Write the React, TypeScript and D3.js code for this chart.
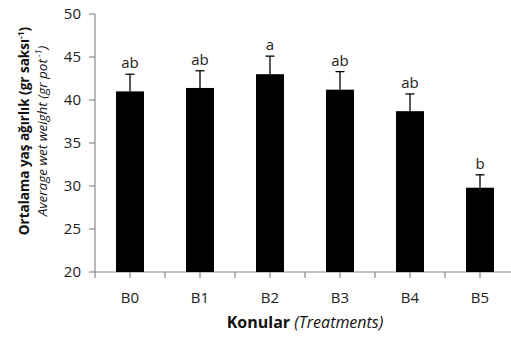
import React from "react";
import * as d3 from "d3";

const categories = ["B0", "B1", "B2", "B3", "B4", "B5"];
const means = [41.0, 41.4, 43.0, 41.2, 38.7, 29.8];
const errors = [2.0, 2.0, 2.1, 2.1, 2.0, 1.5];
const letters = ["ab", "ab", "a", "ab", "ab", "b"];
const yTicks = [20, 25, 30, 35, 40, 45, 50];

const W = 511;
const H = 338;
const left = 95;
const right = 515;
const top = 14;
const bottom = 272;
const FONT = "Open Sans, Noto Sans, sans-serif";
const AXIS = "#8a8a8a";

export default function App() {
  const x = d3.scaleBand<string>().domain(categories).range([left, right]).paddingInner(0.6).paddingOuter(0.3);
  const y = d3.scaleLinear().domain([20, 50]).range([bottom, top]);
  const step = x.step();
  const xTickPos: number[] = [];
  for (let i = 0; i <= categories.length * 2; i++) {
    const p = left + (i * step) / 2;
    if (p <= W) xTickPos.push(p);
  }
  return (
    <svg width={W} height={H} style={{ position: "absolute", left: 0, top: 0, background: "#fff" }} fontFamily={FONT}>
      <rect x={0} y={0} width={W} height={H} fill="#fff" />
      {/* y axis */}
      <line x1={left} x2={left} y1={top} y2={bottom} stroke={AXIS} strokeWidth={1.2} />
      {yTicks.map((t) => (
        <g key={t}>
          <line x1={left - 6} x2={left} y1={y(t)} y2={y(t)} stroke={AXIS} strokeWidth={1.2} />
          <text x={81} y={y(t)} dy="0.36em" textAnchor="end" fontSize={15} fill="#222">
            {t}
          </text>
        </g>
      ))}
      {/* x axis */}
      <line x1={left} x2={W} y1={bottom} y2={bottom} stroke={AXIS} strokeWidth={1.2} />
      {xTickPos.map((p, i) => (
        <line key={i} x1={p} x2={p} y1={bottom} y2={bottom + 6} stroke={AXIS} strokeWidth={1.2} />
      ))}
      {categories.map((c) => (
        <text key={c} x={(x(c) as number) + x.bandwidth() / 2} y={303} textAnchor="middle" fontSize={15} fill="#222">
          {c}
        </text>
      ))}
      {/* bars */}
      {categories.map((c, i) => {
        const cx = (x(c) as number) + x.bandwidth() / 2;
        const yt = y(means[i] + errors[i]);
        return (
          <g key={c}>
            <line x1={cx} x2={cx} y1={y(means[i])} y2={yt} stroke="#000" strokeWidth={1.3} />
            <line x1={cx - 4.5} x2={cx + 4.5} y1={yt} y2={yt} stroke="#000" strokeWidth={1.3} />
            <rect x={x(c)} y={y(means[i])} width={x.bandwidth()} height={bottom - y(means[i])} fill="#000" />
            <text x={cx} y={yt - 6} textAnchor="middle" fontSize={15} fill="#222">
              {letters[i]}
            </text>
          </g>
        );
      })}
      {/* x title */}
      <text x={305} y={328} textAnchor="middle" fontSize={16} fill="#111">
        <tspan fontWeight="bold">Konular</tspan>
        <tspan fontStyle="italic"> (Treatments)</tspan>
      </text>
      {/* y titles */}
      <text transform="translate(29,131) rotate(-90)" textAnchor="middle" fontSize={13.5} fontWeight="bold" fill="#111">
        Ortalama yaş ağırlık  (gr saksı<tspan fontSize={8.5} dy={-5}>-1</tspan>
        <tspan dy={5}>)</tspan>
      </text>
      <text transform="translate(47,131) rotate(-90)" textAnchor="middle" fontSize={13.5} fontStyle="italic" fill="#111">
        Average wet weight (gr pot<tspan fontSize={8.5} dy={-5}> -1</tspan>
        <tspan dy={5}>)</tspan>
      </text>
    </svg>
  );
}
